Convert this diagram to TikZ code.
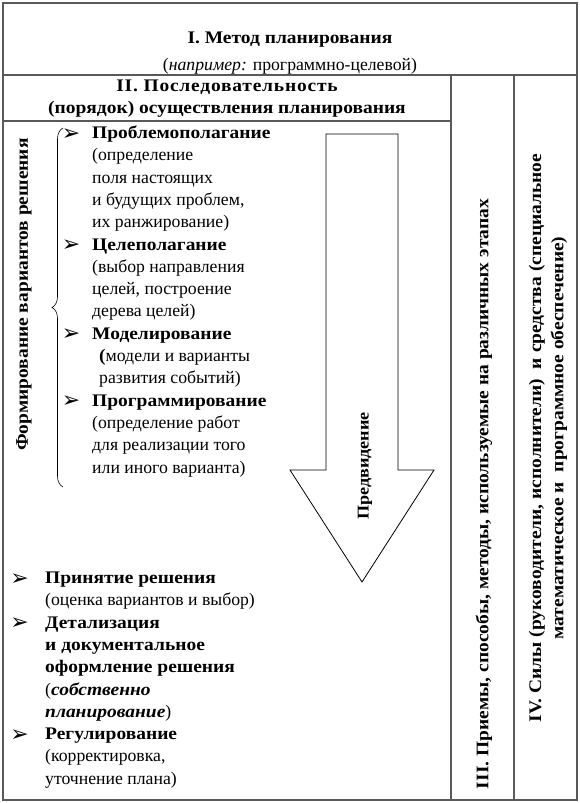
\documentclass[tikz,border=0pt]{standalone}
\usepackage{fontspec}
\setmainfont{Liberation Serif}[BoldFeatures={FakeStretch=1.1}, BoldItalicFeatures={FakeStretch=1.1}]
\newfontfamily\symfont{DejaVu Sans}
\usetikzlibrary{decorations.pathreplacing}

\begin{document}
\begin{tikzpicture}[x=1pt, y=-1pt,
        frame/.style={draw=black!65, line width=1.1pt},
        txt/.style={inner sep=0pt, font=\fontsize{17.7}{22.3}\selectfont},
        list/.style={txt, align=left, anchor=north west},
        head/.style={inner sep=0pt, font=\fontsize{17.7}{22.3}\selectfont\bfseries},
        vert/.style={head, rotate=90},
        pointer/.style={inner sep=0pt, font=\symfont\fontsize{22}{22}\selectfont}]

        \useasboundingbox (0,0) rectangle (580,803);

        \draw[frame] (3,3) rectangle (577,800);
        \draw[frame] (3,75) -- (577,75);
        \draw[frame] (3,121) -- (451,121);
        \draw[frame] (451,75) -- (451,800);
        \draw[frame] (514,75) -- (514,800);

        \node[head, anchor=base] (m1) at (290,43) {I. Метод планирования};
        \node[txt, anchor=base] (m2) at (290,70) {(\textit{например:} программно-целевой)};

        \node[head, anchor=base] (s1) at (227,91) {\addfontfeature{LetterSpace=4.5}II. Последовательность};
        \node[head, anchor=base] (s2) at (227,113) {(порядок) осуществления планирования};

        \node[list] (up) at (92,125.3) {\rule{0pt}{13pt}\textbf{Проблемополагание}\\
            (определение\\
            поля настоящих\\
            и будущих проблем,\\
            их ранжирование)\\
            \textbf{Целеполагание}\\
            (выбор направления\\
            целей, построение\\
            дерева целей)\\
            \textbf{Моделирование}\\
            \hspace*{7pt}\textbf{(}модели и варианты\\
            \hspace*{7pt}развития событий)\\
            \textbf{Программирование}\\
            (определение работ\\
            для реализации того\\
            или иного варианта)};

        \foreach \k [count=\i] in {0,5,9,12}
            \node[pointer] (up\i) at (71,{134.3+22.3*\k}) {➢};

        \draw[decorate, decoration={brace, amplitude=11pt}, line width=0.6pt] (63,487) -- (63,128);
        \node[vert] (F) at (24,294.5) {Формирование вариантов решения};

        \draw[line width=0.8pt] (326,134) -- (398,134) -- (398,470) -- (434,470) -- (362,582) -- (290,470) -- (326,470) -- cycle;
        \node[vert, font=\fontsize{16.5}{20}\selectfont\bfseries] (P) at (365,466) {Предвидение};

        \node[list] (lo) at (45,570.3) {\rule{0pt}{13pt}\textbf{Принятие решения}\\
            (оценка вариантов и выбор)\\
            \textbf{Детализация}\\
            \textbf{и документальное}\\
            \textbf{оформление решения}\\
            (\textbf{\textit{собственно}}\\
            \textbf{\textit{планирование}})\\
            \textbf{Регулирование}\\
            (корректировка,\\
            уточнение плана)};

        \foreach \k [count=\i] in {0,2,7}
            \node[pointer] (lo\i) at (19.5,{579.3+22.3*\k}) {➢};

        \node[vert] (T) at (484,494) {III. Приемы, способы, методы, используемые на различных этапах};
        \node[vert, align=center] (S) at (548,438) {IV. Силы (руководители, исполнители)\ \ и средства (специальное\\математическое и\ \ программное обеспечение)};

    \end{tikzpicture}
\end{document}
